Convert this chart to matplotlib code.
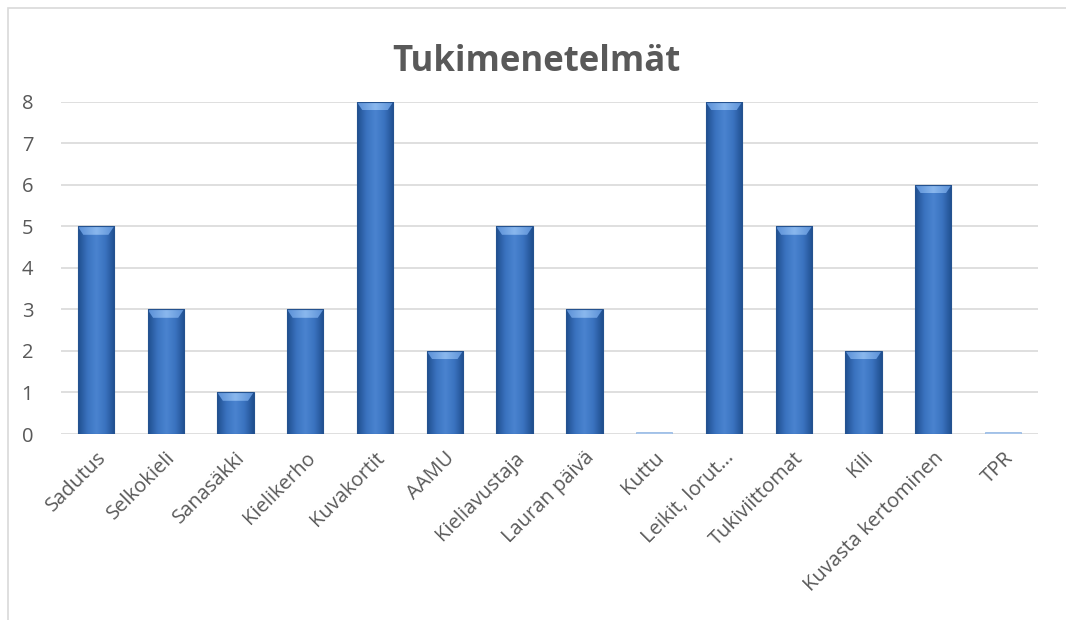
import numpy as np
import matplotlib.pyplot as plt
from matplotlib.colors import LinearSegmentedColormap
from matplotlib.patches import Polygon, Rectangle

categories = ['Sadutus', 'Selkokieli', 'Sanasäkki', 'Kielikerho', 'Kuvakortit', 'AAMU',
              'Kieliavustaja', 'Lauran päivä', 'Kuttu', 'Leikit, lorut…', 'Tukiviittomat',
              'Kili', 'Kuvasta kertominen', 'TPR']
values = [5, 3, 1, 3, 8, 2, 5, 3, 0, 8, 5, 2, 6, 0]
title = 'Tukimenetelmät'

plt.rcParams['font.family'] = ['Open Sans', 'DejaVu Sans']

fig = plt.figure(figsize=(10.66, 6.2), dpi=100)
ax = fig.add_axes([0.0572, 0.30, 0.9165, 0.5355])

# chart border
fig.add_artist(Rectangle((8 / 1066, -0.01), 1.1, (620 - 8) / 620 + 0.01, transform=fig.transFigure,
                         fill=False, edgecolor='#d9d9d9', linewidth=1.2))

x = np.arange(len(categories))
width = 0.52

# bevelled-looking bars: horizontal gradient + lighter top facet
cmap = LinearSegmentedColormap.from_list('bev', ['#1f4f8f', '#3a72bf', '#4a84d0', '#3a72bf', '#1f4f8f'])
grad = np.linspace(0, 1, 64).reshape(1, -1)
cmap_top = LinearSegmentedColormap.from_list('top', ['#5a8fd6', '#8ab8ee', '#5a8fd6'])
bevel = 0.2
for xi, v in zip(x, values):
    if v <= 0:
        ax.bar(xi, 0.06, width=width, color='#a9c6ea', edgecolor='#8db3e2', linewidth=0.5, zorder=3)
        continue
    left, right = xi - width / 2, xi + width / 2
    im = ax.imshow(grad, cmap=cmap, extent=[left, right, 0, v], aspect='auto', zorder=3,
                   interpolation='bicubic')
    im.set_clip_path(Rectangle((left, 0), width, v, transform=ax.transData))
    top = Polygon([[left, v], [right, v], [right - 0.08, v - bevel], [left + 0.08, v - bevel]],
                  closed=True, transform=ax.transData)
    imt = ax.imshow(grad, cmap=cmap_top, extent=[left, right, v - bevel, v], aspect='auto', zorder=4,
                    interpolation='bicubic')
    imt.set_clip_path(top)
    ax.add_patch(Rectangle((left, 0), width, v, fill=False, edgecolor='#24528f', linewidth=0.8, zorder=5))

ax.set_xlim(-0.5, len(categories) - 0.5)
ax.set_ylim(0, 8)
ax.set_yticks(range(0, 9))
ax.yaxis.grid(True, color='#d9d9d9', linewidth=1.2, zorder=0)
ax.set_axisbelow(True)
for s in ax.spines.values():
    s.set_visible(False)
ax.tick_params(axis='both', length=0, colors='#595959', labelsize=14.5)
ax.tick_params(axis='y', pad=20)
ax.set_xticks(x)
ax.set_xticklabels(categories, rotation=45, ha='right', rotation_mode='anchor')
ax.tick_params(axis='x', pad=10)

fig.text(0.503, 0.9, title, ha='center', va='center', fontsize=25, fontweight='bold', color='#595959')

fig.savefig('out.png', dpi=100)
